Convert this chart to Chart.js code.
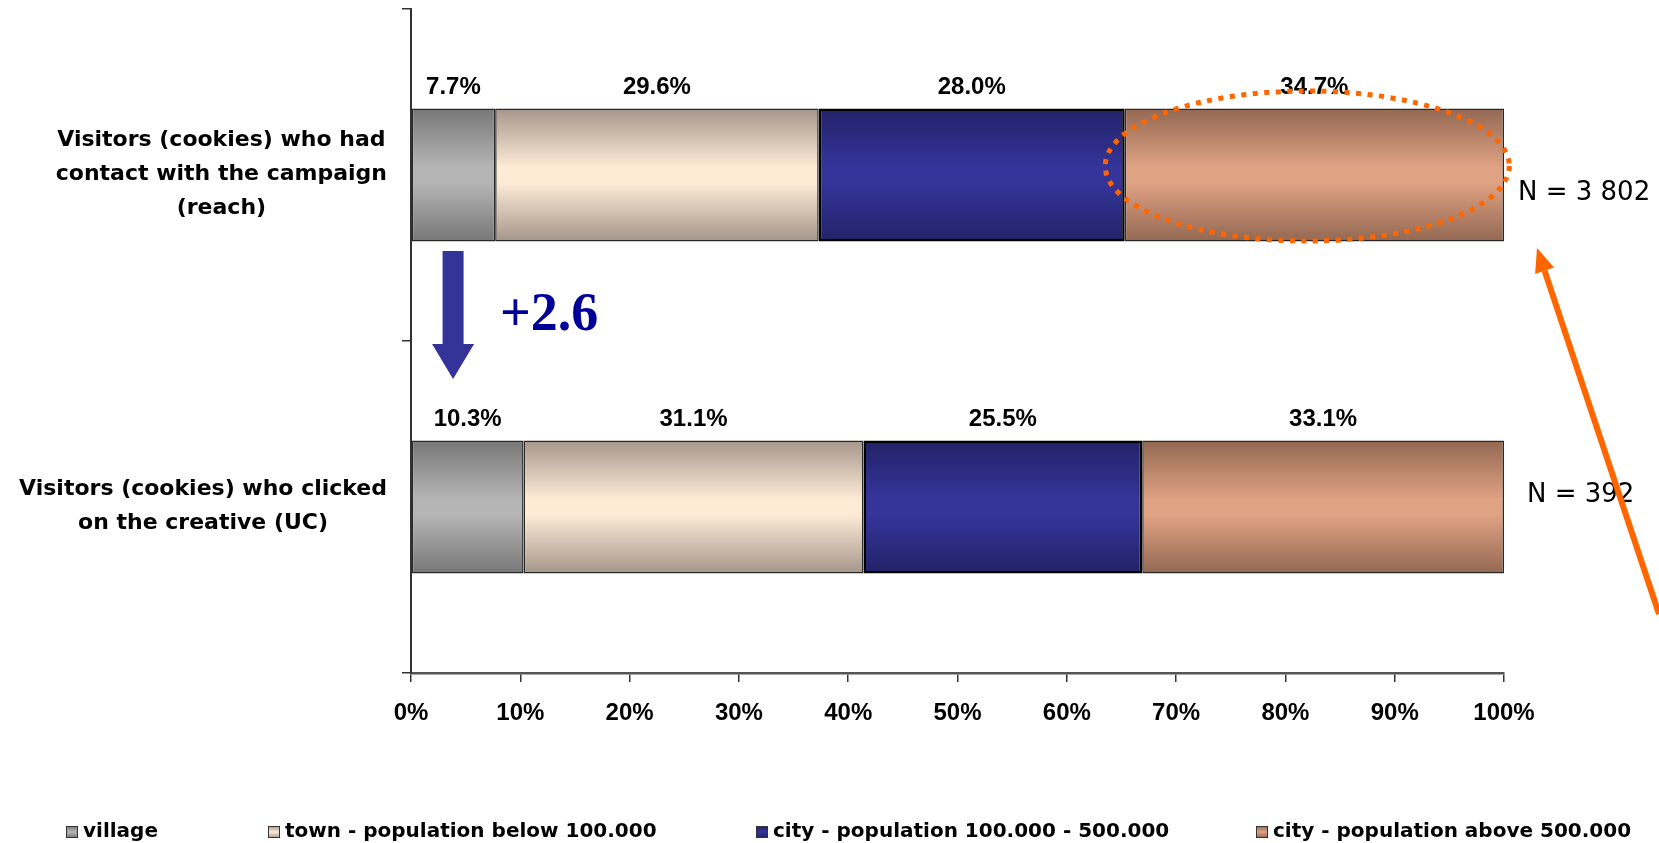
<!DOCTYPE html>
<html>
<head>
<meta charset="utf-8">
<title>Visitors by place of residence</title>
<script src="https://cdn.jsdelivr.net/npm/chart.js@4/dist/chart.umd.min.js"></script>
<style>
  html, body { margin: 0; padding: 0; background: #ffffff; }
  #wrap { width: 1659px; height: 843px; position: relative; }
</style>
</head>
<body>
<div id="wrap"><canvas id="chart" width="1659" height="843"></canvas></div>
<script>
// Audience groups (one horizontal 100% bar each)
const categories = [
  ['Visitors (cookies) who had', 'contact with the campaign', '(reach)'],
  ['Visitors (cookies) who clicked', 'on the creative (UC)']
];
const sampleSizes = ['N = 3 802', 'N = 392'];

// Share of visitors by place of residence, in percent
const seriesNames = [
  'village',
  'town - population below 100.000',
  'city - population 100.000 - 500.000',
  'city - population above 500.000'
];
const village     = [7.7, 10.3];
const townSmall   = [29.6, 31.1];
const cityMedium  = [28.0, 25.5];
const cityLarge   = [34.7, 33.1];

const xTicks = [0, 10, 20, 30, 40, 50, 60, 70, 80, 90, 100];
const changeNote = '+2.6';

// Shading: [edge colour, centre colour] for the cylinder-like bar fill
const shades = [
  ['#777777', '#b5b5b5'],
  ['#a4968a', '#fdebd6'],
  ['#222268', '#34349a'],
  ['#936852', '#dfa283']
];
const borders = [
  { color: '#2a2a2a', width: 1.5 },
  { color: '#2a2a2a', width: 1.5 },
  { color: '#000000', width: 2.5 },
  { color: '#2a2a2a', width: 1.5 }
];

const BAR_SHARE = 0.4;

function barFill(i) {
  return function (ctx) {
    const chart = ctx.chart;
    const y = chart.scales && chart.scales.y;
    if (!chart.chartArea || !y) return shades[i][1];
    const c = y.getPixelForValue(ctx.dataIndex);
    const half = (y.height / categories.length) * BAR_SHARE / 2;
    const g = chart.ctx.createLinearGradient(0, c - half, 0, c + half);
    g.addColorStop(0, shades[i][0]);
    g.addColorStop(0.44, shades[i][1]);
    g.addColorStop(0.56, shades[i][1]);
    g.addColorStop(1, shades[i][0]);
    return g;
  };
}

const values = [village, townSmall, cityMedium, cityLarge];
const datasets = values.map((v, i) => ({
  label: seriesNames[i],
  data: v,
  backgroundColor: barFill(i),
  borderColor: borders[i].color,
  borderWidth: borders[i].width,
  borderSkipped: false,
  barPercentage: BAR_SHARE,
  categoryPercentage: 1.0
}));

// Category labels: lines centred on each other, block right-aligned near the axis
const categoryLabels = {
  id: 'categoryLabels',
  afterDraw(chart) {
    const { ctx, chartArea, scales } = chart;
    ctx.save();
    ctx.font = 'bold 22px "DejaVu Sans", Verdana, sans-serif';
    ctx.fillStyle = '#000';
    ctx.textAlign = 'center';
    ctx.textBaseline = 'middle';
    const lineGap = 34;
    categories.forEach((lines, i) => {
      const w = Math.max(...lines.map(l => ctx.measureText(l).width));
      const cx = chartArea.left - 24 - w / 2;
      const cy = scales.y.getPixelForValue(i) - 1;
      const top = cy - (lines.length - 1) * lineGap / 2;
      lines.forEach((l, k) => ctx.fillText(l, cx, top + k * lineGap));
    });
    ctx.restore();
  }
};

// Percent labels above each segment and sample sizes to the right
const valueLabels = {
  id: 'valueLabels',
  afterDatasetsDraw(chart) {
    const { ctx, chartArea } = chart;
    ctx.save();
    ctx.font = 'bold 24px "Liberation Sans", Arial, sans-serif';
    ctx.fillStyle = '#000';
    ctx.textAlign = 'center';
    ctx.textBaseline = 'middle';
    chart.data.datasets.forEach((ds, di) => {
      const meta = chart.getDatasetMeta(di);
      meta.data.forEach((bar, j) => {
        const p = bar.getProps(['x', 'y', 'base', 'height'], true);
        const cx = (p.x + p.base) / 2;
        const cy = p.y - p.height / 2 - 21;
        ctx.fillText(ds.data[j].toFixed(1) + '%', cx, cy);
      });
    });
    ctx.font = '26px "DejaVu Sans", Verdana, sans-serif';
    ctx.textAlign = 'left';
    const shift = [{ dx: 14, dy: 18 }, { dx: 23, dy: -12 }];
    sampleSizes.forEach((s, i) => {
      const y = chart.scales.y.getPixelForValue(i);
      ctx.fillText(s, chartArea.right + shift[i].dx, y + shift[i].dy);
    });
    ctx.restore();
  }
};

// Highlight marks: dotted ellipse, pointer arrow, change arrow and note
const highlights = {
  id: 'highlights',
  afterDraw(chart) {
    const { ctx, scales, chartArea } = chart;
    const xs = scales.x, ys = scales.y;
    ctx.save();

    // dotted ellipse around the largest-city segment of the first bar
    const row0 = ys.getPixelForValue(0);
    const ex = xs.getPixelForValue(82.0);
    ctx.strokeStyle = '#ff6600';
    ctx.lineWidth = 5;
    ctx.setLineDash([5, 6.5]);
    ctx.beginPath();
    ctx.ellipse(ex, row0 - 9, 202, 75, 0, 0, Math.PI * 2);
    ctx.stroke();
    ctx.setLineDash([]);

    // orange pointer arrow from the lower right corner
    const tipX = chartArea.right + 33, tipY = row0 + 73;
    const fromX = chart.width, fromY = 614;
    const ang = Math.atan2(tipY - fromY, tipX - fromX);
    const headLen = 24, headHalf = 10;
    const bx = tipX - headLen * Math.cos(ang), by = tipY - headLen * Math.sin(ang);
    ctx.strokeStyle = '#ff6600';
    ctx.fillStyle = '#ff6600';
    ctx.lineWidth = 6;
    ctx.beginPath();
    ctx.moveTo(fromX, fromY);
    ctx.lineTo(bx, by);
    ctx.stroke();
    ctx.beginPath();
    ctx.moveTo(tipX, tipY);
    ctx.lineTo(bx + headHalf * Math.sin(ang), by - headHalf * Math.cos(ang));
    ctx.lineTo(bx - headHalf * Math.sin(ang), by + headHalf * Math.cos(ang));
    ctx.closePath();
    ctx.fill();

    // blue downward arrow between the bars
    const ax = xs.getPixelForValue(3.85);
    const aTop = 251, headTop = 344, aBot = 379;
    ctx.fillStyle = '#333399';
    ctx.beginPath();
    ctx.moveTo(ax - 10.5, aTop);
    ctx.lineTo(ax + 10.5, aTop);
    ctx.lineTo(ax + 10.5, headTop);
    ctx.lineTo(ax + 21, headTop);
    ctx.lineTo(ax, aBot);
    ctx.lineTo(ax - 21, headTop);
    ctx.lineTo(ax - 10.5, headTop);
    ctx.closePath();
    ctx.fill();

    ctx.font = 'bold 54px "Liberation Serif", "Times New Roman", serif';
    ctx.fillStyle = '#000099';
    ctx.textAlign = 'left';
    ctx.textBaseline = 'alphabetic';
    ctx.fillText(changeNote, ax + 47, 330);
    ctx.restore();
  }
};

// Legend row along the bottom edge
const bottomLegend = {
  id: 'bottomLegend',
  afterDraw(chart) {
    const { ctx } = chart;
    const xs = [66, 268, 756, 1256];
    const y = 832;
    ctx.save();
    ctx.font = 'bold 20px "DejaVu Sans", Verdana, sans-serif';
    ctx.textBaseline = 'middle';
    ctx.textAlign = 'left';
    seriesNames.forEach((name, i) => {
      const g = ctx.createLinearGradient(0, y - 6, 0, y + 6);
      g.addColorStop(0, shades[i][0]);
      g.addColorStop(0.5, shades[i][1]);
      g.addColorStop(1, shades[i][0]);
      ctx.fillStyle = g;
      ctx.fillRect(xs[i], y - 6, 12, 12);
      ctx.strokeStyle = '#333';
      ctx.lineWidth = 1;
      ctx.strokeRect(xs[i] + 0.5, y - 5.5, 11, 11);
      ctx.fillStyle = '#000';
      ctx.fillText(name, xs[i] + 17, y);
    });
    ctx.restore();
  }
};

new Chart(document.getElementById('chart'), {
  type: 'bar',
  data: { labels: categories.map(c => c.join(' ')), datasets },
  options: {
    indexAxis: 'y',
    responsive: false,
    animation: false,
    layout: { padding: { top: 9, right: 155, left: 0, bottom: 0 } },
    plugins: {
      legend: { display: false },
      tooltip: { enabled: false }
    },
    scales: {
      x: {
        stacked: true,
        min: 0,
        max: 100,
        afterBuildTicks(scale) { scale.ticks = xTicks.map(v => ({ value: v })); },
        afterFit(scale) { scale.height = 170; },
        ticks: {
          callback: v => v + '%',
          font: { family: '"Liberation Sans", Arial, sans-serif', size: 24, weight: 'bold' },
          color: '#000',
          padding: 17,
          maxRotation: 0
        },
        grid: { drawOnChartArea: false, drawTicks: true, tickLength: 9, color: '#333', lineWidth: 1.5 },
        border: { display: true, color: '#555', width: 2.5 }
      },
      y: {
        stacked: true,
        afterFit(scale) { scale.width = 411; },
        ticks: { display: false },
        grid: { drawOnChartArea: false, drawTicks: true, tickLength: 9, color: '#333', lineWidth: 1.5, offset: true },
        border: { display: true, color: '#333', width: 2 }
      }
    }
  },
  plugins: [categoryLabels, valueLabels, highlights, bottomLegend]
});
</script>
</body>
</html>
